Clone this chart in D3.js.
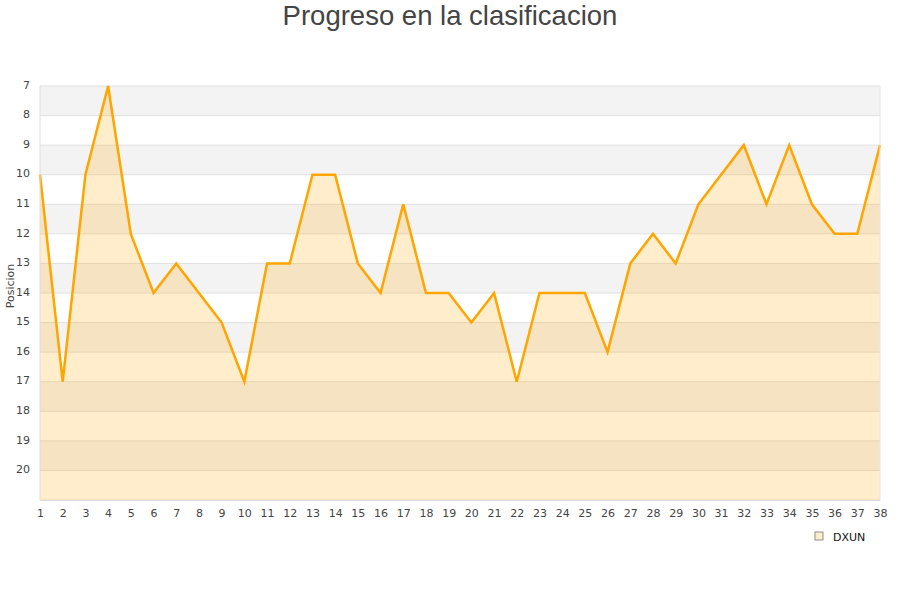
<!DOCTYPE html>
<html>
<head>
<meta charset="utf-8">
<script src="https://cdn.jsdelivr.net/npm/d3@7"></script>
<style>
  body { margin: 0; background: #fff; }
  .tick text { font-family: "DejaVu Sans", sans-serif; font-size: 11px; fill: #444; }
</style>
</head>
<body>
<div id="chart"></div>
<script>
  var svgWidth = 900;
  var svgHeight = 600;

  var margin = { top: 86, right: 20, bottom: 100, left: 40 };
  var width = svgWidth - margin.left - margin.right;
  var height = svgHeight - margin.top - margin.bottom;

  // jornadas and position of the team
  var jornadas = d3.range(1, 39);
  var posiciones = [10, 17, 10, 7, 12, 14, 13, 14, 15, 17, 13, 13, 10, 10, 13, 14, 11, 14, 14, 15,
                    14, 17, 14, 14, 14, 16, 13, 12, 13, 11, 10, 9, 11, 9, 11, 12, 12, 9];
  var yTicks = [7, 8, 9, 10, 11, 12, 13, 14, 15, 16, 17, 18, 19, 20];
  var serie = "DXUN";

  var data = jornadas.map(function(j, i) { return { j: j, pos: posiciones[i] }; });

  var svg = d3.select("#chart")
    .append("svg")
    .attr("width", svgWidth)
    .attr("height", svgHeight);

  var chartGroup = svg.append("g")
    .attr("transform", `translate(${margin.left}, ${margin.top})`);

  var xScale = d3.scaleLinear().domain([1, 38]).range([0, width]);
  var yScale = d3.scaleLinear().domain([7, 21]).range([0, height]);

  // alternating bands
  chartGroup.selectAll("rect.band")
    .data(d3.range(7, 21))
    .enter()
    .append("rect")
    .attr("class", "band")
    .attr("x", 0)
    .attr("width", width)
    .attr("y", d => yScale(d))
    .attr("height", d => yScale(d + 1) - yScale(d))
    .attr("fill", d => (d % 2 === 1) ? "#f3f3f3" : "#ffffff");

  // grid lines
  chartGroup.selectAll("line.grid")
    .data(d3.range(7, 22))
    .enter()
    .append("line")
    .attr("x1", 0)
    .attr("x2", width)
    .attr("y1", d => yScale(d))
    .attr("y2", d => yScale(d))
    .attr("stroke", "#e0e0e0")
    .attr("stroke-width", 1);

  // area
  var area = d3.area()
    .x(d => xScale(d.j))
    .y0(yScale(21))
    .y1(d => yScale(d.pos));

  chartGroup.append("path")
    .datum(data)
    .attr("d", area)
    .attr("fill", "orange")
    .attr("fill-opacity", 0.2);

  var line = d3.line()
    .x(d => xScale(d.j))
    .y(d => yScale(d.pos));

  chartGroup.append("path")
    .datum(data)
    .attr("d", line)
    .attr("fill", "none")
    .attr("stroke", "#ffa500")
    .attr("stroke-width", 2.5);

  // left border line
  chartGroup.append("line")
    .attr("x1", 0).attr("x2", 0)
    .attr("y1", 0).attr("y2", height)
    .attr("stroke", "#dddddd");
  chartGroup.append("line")
    .attr("x1", width).attr("x2", width)
    .attr("y1", 0).attr("y2", height)
    .attr("stroke", "#e6e6e6");

  // axes
  var bottomAxis = d3.axisBottom(xScale).tickValues(jornadas).tickFormat(d3.format("d")).tickSize(0).tickPadding(9);
  var xAxis = chartGroup.append("g")
    .attr("transform", `translate(0, ${height})`)
    .call(bottomAxis);
  xAxis.select(".domain").attr("stroke", "#dddddd");

  var leftAxis = d3.axisLeft(yScale).tickValues(yTicks).tickFormat(d3.format("d")).tickSize(0).tickPadding(10);
  var yAxis = chartGroup.append("g").call(leftAxis);
  yAxis.select(".domain").remove();
  yAxis.selectAll(".tick text").attr("dy", "0.2em");

  // title
  svg.append("text")
    .attr("x", svgWidth / 2)
    .attr("y", 25)
    .attr("text-anchor", "middle")
    .style("font-family", "'Liberation Sans', Arial, sans-serif")
    .style("font-size", "27.5px")
    .style("fill", "#444")
    .text("Progreso en la clasificacion");

  // y label
  svg.append("text")
    .attr("transform", `translate(14, ${margin.top + height / 2 - 7}) rotate(-90)`)
    .attr("text-anchor", "middle")
    .style("font-family", "'DejaVu Sans', sans-serif")
    .style("font-size", "11px")
    .style("fill", "#444")
    .text("Posicion");

  // legend
  var legend = svg.append("g").attr("transform", "translate(815, 532)");
  legend.append("rect")
    .attr("width", 8).attr("height", 8)
    .attr("fill", "#ffedcc")
    .attr("stroke", "#777")
    .attr("stroke-width", 0.8);
  legend.append("text")
    .attr("x", 18).attr("y", 8.5)
    .style("font-family", "'DejaVu Sans', sans-serif")
    .style("font-size", "11px")
    .style("fill", "#111")
    .text(serie);
</script>
</body>
</html>
